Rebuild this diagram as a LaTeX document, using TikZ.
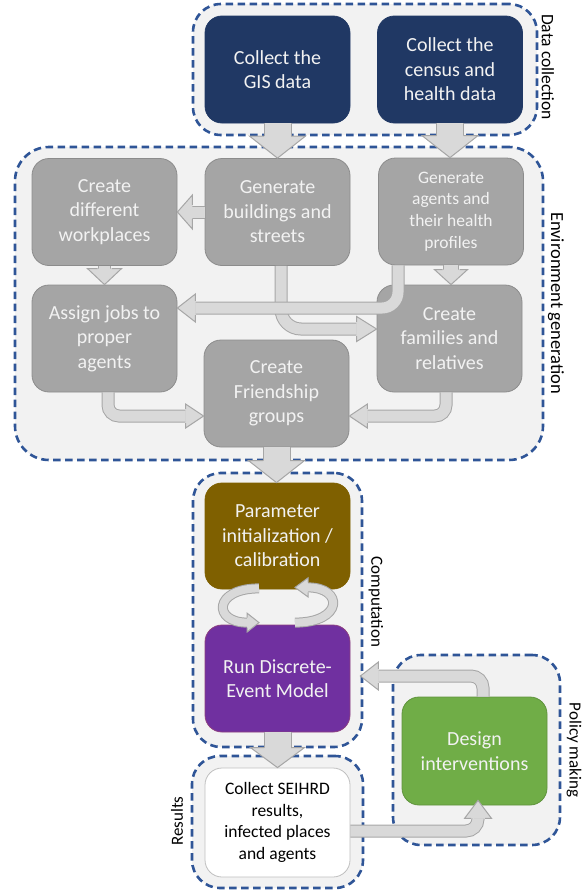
\documentclass[tikz,border=0pt]{standalone}
\usepackage{fontspec}
\setmainfont{Carlito}
\usetikzlibrary{calc}
\definecolor{grpfill}{HTML}{F2F2F2}
\definecolor{grpline}{HTML}{2F5597}
\definecolor{boxgray}{HTML}{A5A5A5}
\definecolor{boxgrayline}{HTML}{8C8C8C}
\definecolor{arrfill}{HTML}{D9D9D9}
\definecolor{arrline}{HTML}{A6A6A6}
\definecolor{navybox}{HTML}{203864}
\definecolor{brownbox}{HTML}{7F6000}
\definecolor{purplebox}{HTML}{7030A0}
\definecolor{greenbox}{HTML}{70AD47}
\definecolor{lighttext}{HTML}{F2F2F2}
\newcommand{\ahead}[5]{%
  \begin{scope}[shift={#1},rotate=#2]
    \fill[arrfill] (0,0) -- (-#3,#4) -- (-#3,-#4) -- cycle;
    \draw[arrline,line width=1pt,line join=miter] (-#3,#5) -- (-#3,#4) -- (0,0) -- (-#3,-#4) -- (-#3,-#5);
  \end{scope}}
\tikzset{
  grp/.style={draw=grpline, fill=grpfill, line width=2.6pt, dash pattern=on 7.5pt off 4.5pt, rounded corners=28pt, minimum width=#1},
  bx/.style={rounded corners=17pt, align=center, text=lighttext, line width=0.8pt,
     font=\fontsize{20}{24.5}\selectfont, minimum width=145pt, minimum height=107pt, inner sep=2pt},
  graybox/.style={bx, fill=boxgray, draw=boxgrayline},
  bigshaft/.style={draw=arrline, line width=1pt, double=arrfill, double distance=26pt},
  smallshaft/.style={draw=arrline, line width=1pt, double=arrfill, double distance=11pt},
  tinyshaft/.style={draw=arrline, line width=1pt, double=arrfill, double distance=8pt},
  lbl/.style={font=\fontsize{17}{20}\selectfont, text=black, inner sep=0pt},
}
\begin{document}
\begin{tikzpicture}[x=1pt,y=-1pt]
\useasboundingbox (0,0) rectangle (581,894);
% groups
\node[grp=344pt, minimum height=131pt] (gData) at (365,69.5) {};
\node[grp=528pt, minimum height=313pt, rounded corners=34pt] (gEnv) at (279,303.5) {};
\node[grp=169pt, minimum height=274pt] (gComp) at (277.5,610) {};
\node[grp=167pt, minimum height=190pt] (gPol) at (476.5,750) {};
\node[grp=171pt, minimum height=132pt] (gRes) at (277.5,822) {};
% boxes
\node[bx, fill=navybox, draw=navybox] (gis) at (277.5,69.5) {Collect the\\GIS data};
\node[bx, fill=navybox, draw=navybox] (cen) at (450,69.5) {Collect the\\census and\\health data};
\node[graybox] (wrk) at (104.5,212) {Create\\different\\workplaces};
\node[graybox] (bld) at (277.5,212) {Generate\\buildings and\\streets};
\node[graybox, font=\fontsize{17.5}{21.7}\selectfont] (agt) at (451,211.5) {Generate\\agents and\\their health\\profiles};
\node[graybox] (asg) at (104.5,338.5) {Assign jobs to\\proper\\agents};
\node[graybox] (fam) at (449.5,338.5) {Create\\families and\\relatives};
\node[graybox] (frd) at (276.5,393.5) {Create\\Friendship\\groups};
\node[bx, fill=brownbox, draw=brownbox, minimum height=106pt] (par) at (277.5,536) {Parameter\\initialization /\\calibration};
\node[bx, fill=purplebox, draw=purplebox!80!orange] (dem) at (277.5,678.5) {Run Discrete-\\Event Model};
\node[bx, fill=white, draw=black!25, text=black, minimum height=109pt, font=\fontsize{17.5}{21.7}\selectfont] (sei) at (277.5,822.5) {Collect SEIHRD\\results,\\infected places\\and agents};
\node[bx, fill=greenbox, draw=greenbox!85!black, minimum height=108pt] (des) at (474.5,751) {Design\\interventions};
% big arrows
\draw[bigshaft] (gis.south) -- ($(gis.south |- bld.north)+(0,-22)$);
\ahead{(gis.south |- bld.north)}{-90}{22}{28}{13.5}
\draw[bigshaft] (cen.south) -- ($(cen.south |- agt.north)+(0,-22)$);
\ahead{(cen.south |- agt.north)}{-90}{22}{28}{13.5}
\draw[bigshaft] (frd.south) -- ($(frd.south |- par.north)+(0,-22)$);
\ahead{(frd.south |- par.north)}{-90}{22}{28}{13.5}
\draw[bigshaft] (dem.south) -- ($(dem.south |- sei.north)+(0,-20)$);
\ahead{(dem.south |- sei.north)}{-90}{20}{27}{13.5}
% environment arrows
\draw[smallshaft] (bld.west) -- ($(wrk.east)+(15,0)$);
\ahead{(wrk.east)}{180}{15}{17}{7}
\draw[smallshaft] (wrk.south) -- ($(wrk.south |- asg.north)+(0,-16)$);
\ahead{(wrk.south |- asg.north)}{-90}{16}{17}{7}
\draw[smallshaft, double distance=14pt] (agt.south) -- ($(agt.south |- fam.north)+(0,-15)$);
\ahead{(agt.south |- fam.north)}{-90}{15}{16.5}{8.5}
\coordinate (b1) at ($(bld.south)+(3.5,0)$);
\coordinate (f1) at ($(fam.west)+(0,-9.5)$);
\draw[smallshaft, rounded corners=20pt] (b1) -- (b1 |- f1) -- ($(f1)+(-20,0)$);
\ahead{(f1)}{0}{20}{12.5}{7}
\coordinate (a1) at ($(agt.south)+(-53,0)$);
\coordinate (a2) at ($(asg.east)+(0,-30.5)$);
\draw[smallshaft, rounded corners=16pt] (a1) -- (a1 |- a2) -- ($(a2)+(18,0)$);
\ahead{(a2)}{180}{18}{14}{7}
\coordinate (s1) at ($(asg.south)+(3.5,0)$);
\coordinate (t1) at ($(frd.west)+(0,22.5)$);
\draw[smallshaft, rounded corners=11pt] (s1) -- (s1 |- t1) -- ($(t1)+(-18,0)$);
\ahead{(t1)}{0}{18}{12}{7}
\coordinate (s2) at ($(fam.south)+(-3.5,0)$);
\coordinate (t2) at ($(frd.east)+(0,22.5)$);
\draw[smallshaft, rounded corners=11pt] (s2) -- (s2 |- t2) -- ($(t2)+(18,0)$);
\ahead{(t2)}{180}{18}{12}{7}
% computation loop
\coordinate (c1) at ($(par.south)+(-18.5,-1)$);
\coordinate (c2) at ($(dem.north)+(-30.5,-2)$);
\coordinate (c3) at ($(dem.north)+(-18.5,-2)$);
\draw[tinyshaft] (c1) .. controls +(-46,0) and +(-34,0) .. (c2);
\ahead{(c3)}{0}{12}{9.5}{5}
\coordinate (c4) at ($(dem.north)+(17.5,-2)$);
\coordinate (c5) at ($(par.south)+(30.5,-2)$);
\coordinate (c6) at ($(par.south)+(17.5,-2)$);
\draw[tinyshaft] (c4) .. controls +(48.5,0) and +(35.5,0) .. (c5);
\ahead{(c6)}{180}{13}{9.5}{5}
% policy arrows
\coordinate (d1) at ($(des.north)+(8.5,0)$);
\coordinate (d2) at ($(dem.east)+(10,-2.5)$);
\draw[smallshaft, rounded corners=12pt] (d1) -- (d1 |- d2) -- ($(d2)+(18,0)$);
\ahead{(d2)}{180}{18}{14}{7}
\coordinate (e1) at ($(sei.east)+(0,8.5)$);
\coordinate (e2) at ($(des.south)+(3.5,-5)$);
\draw[smallshaft, rounded corners=12pt] (e1) -- (e1 -| e2) -- ($(e2)+(0,18)$);
\ahead{(e2)}{90}{18}{13.5}{7}
% labels
\node[lbl, font=\fontsize{17.5}{20}\selectfont, rotate=-90] (lData) at (548,67) {Data collection};
\node[lbl, font=\fontsize{18.5}{20}\selectfont, rotate=-90] (lEnv) at (556,303) {Environment generation};
\node[lbl, rotate=-90] (lComp) at (376,602) {Computation};
\node[lbl, rotate=-90] (lPol) at (574,750) {Policy making};
\node[lbl, rotate=90] (lRes) at (177,821) {Results};
\end{tikzpicture}
\end{document}
